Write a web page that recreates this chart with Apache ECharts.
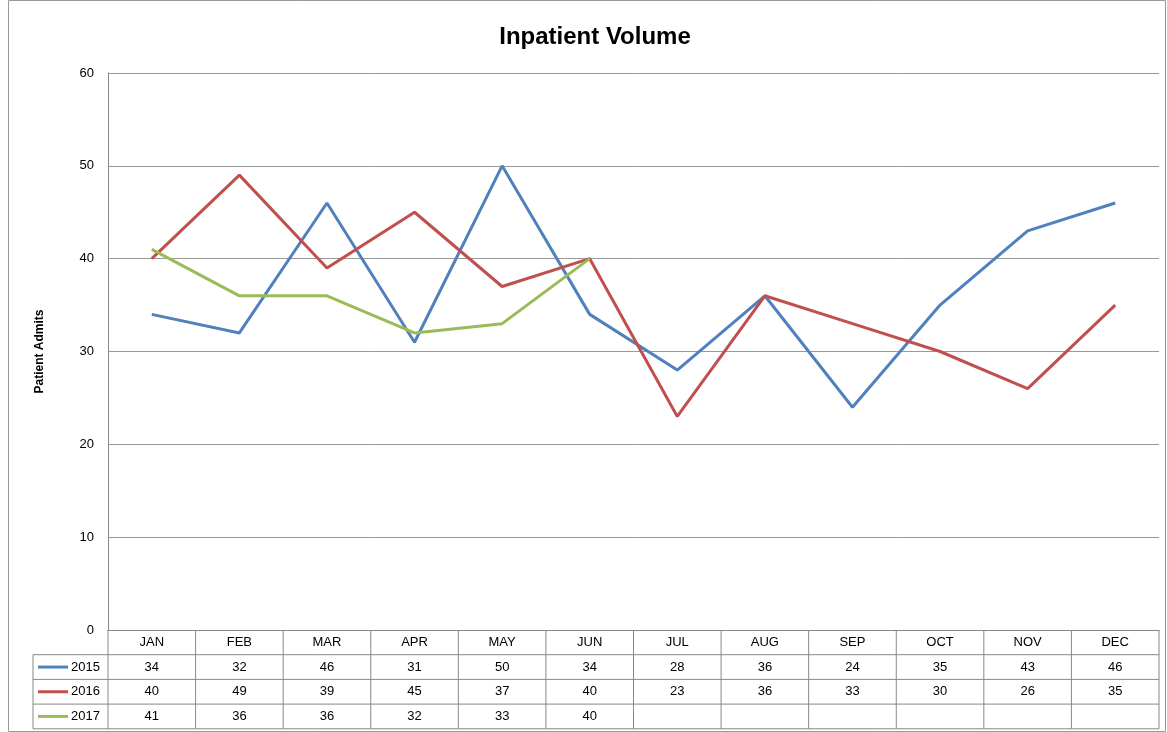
<!DOCTYPE html>
<html>
<head>
<meta charset="utf-8">
<script src="https://cdn.jsdelivr.net/npm/echarts@6/dist/echarts.min.js"></script>
<style>html,body{margin:0;padding:0;background:#fff}#chart{width:1167px;height:732px}</style>
</head>
<body>
<div id="chart"></div>
<script>
const months = ['JAN', 'FEB', 'MAR', 'APR', 'MAY', 'JUN', 'JUL', 'AUG', 'SEP', 'OCT', 'NOV', 'DEC'];
const years = ['2015', '2016', '2017'];
const v2015 = [34, 32, 46, 31, 50, 34, 28, 36, 24, 35, 43, 46];
const v2016 = [40, 49, 39, 45, 37, 40, 23, 36, 33, 30, 26, 35];
const v2017 = [41, 36, 36, 32, 33, 40];
const colors = ['#4F81BD', '#C0504D', '#9BBB59'];

// 绘图区位置
const L = 108, R = 1159, T = 73, B = 630, rowH = 24.7, tableL = 33;
const cw = (R - L) / months.length;
const font = 'Liberation Sans, Arial, sans-serif';

// 数据表格
function buildTable() {
    const els = [];
    const all = [v2015, v2016, v2017];
    const line = (x1, y1, x2, y2) => ({ type: 'line', shape: { x1, y1, x2, y2 }, style: { stroke: '#888', lineWidth: 1 }, silent: true });
    for (let i = 0; i <= months.length; i++) els.push(line(L + i * cw, B, L + i * cw, B + rowH * 4));
    els.push(line(tableL, B + rowH, tableL, B + rowH * 4));
    for (let r = 1; r <= 4; r++) els.push(line(tableL, B + rowH * r, R, B + rowH * r));
    months.forEach((m, i) => els.push({ type: 'text', x: L + (i + 0.5) * cw, y: B + rowH / 2, style: { text: m, font: '13px ' + font, fill: '#000', align: 'center', verticalAlign: 'middle' } }));
    all.forEach((arr, r) => {
        const y = B + rowH * (r + 1.5);
        els.push(line(tableL + 5, y, tableL + 35, y));
        els[els.length - 1].style = { stroke: colors[r], lineWidth: 3 };
        els.push({ type: 'text', x: tableL + 38, y, style: { text: years[r], font: '13px ' + font, fill: '#000', verticalAlign: 'middle' } });
        arr.forEach((v, i) => els.push({ type: 'text', x: L + (i + 0.5) * cw, y, style: { text: String(v), font: '13px ' + font, fill: '#000', align: 'center', verticalAlign: 'middle' } }));
    });
    els.push({ type: 'rect', shape: { x: 8.5, y: 0.5, width: 1157, height: 731 }, style: { fill: 'none', stroke: '#999', lineWidth: 1 }, silent: true });
    return els;
}

const chart = echarts.init(document.getElementById('chart'));
chart.setOption({
    animation: false,
    title: {
        text: 'Inpatient Volume',
        left: 590, top: 20, textAlign: 'center',
        textStyle: { fontFamily: font, fontSize: 24, fontWeight: 'bold', color: '#000' }
    },
    grid: { left: L, right: 1167 - R, top: T, bottom: 732 - B },
    xAxis: {
        type: 'category', data: months, boundaryGap: true,
        axisLine: { lineStyle: { color: '#888' } },
        axisTick: { show: false }, axisLabel: { show: false }
    },
    yAxis: {
        type: 'value', min: 0, max: 60, interval: 10,
        name: 'Patient Admits', nameLocation: 'middle', nameGap: 62,
        nameTextStyle: { fontFamily: font, fontSize: 12, fontWeight: 'bold', color: '#000' },
        axisLine: { show: true, lineStyle: { color: '#888' } },
        axisTick: { show: false },
        axisLabel: { fontFamily: font, fontSize: 13, color: '#000', margin: 14 },
        splitLine: { lineStyle: { color: '#999' } }
    },
    series: [v2015, v2016, v2017].map((d, i) => ({
        name: years[i], type: 'line', data: d, symbol: 'none',
        lineStyle: { color: colors[i], width: 3 }, itemStyle: { color: colors[i] }
    })),
    graphic: buildTable()
});
</script>
</body>
</html>
